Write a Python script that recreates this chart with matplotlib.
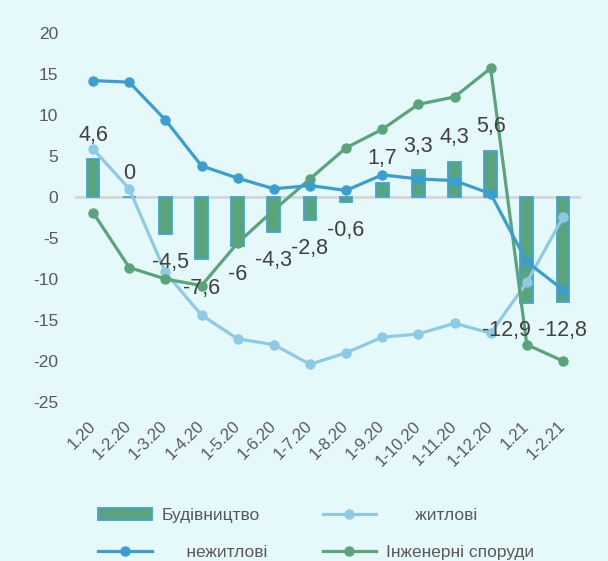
import matplotlib
matplotlib.use("Agg")
import matplotlib.pyplot as plt
from matplotlib.patches import Patch
from matplotlib.lines import Line2D
import numpy as np

plt.rcParams['font.family'] = ['Liberation Sans', 'DejaVu Sans']

categories = ['1.20', '1-2.20', '1-3.20', '1-4.20', '1-5.20', '1-6.20', '1-7.20',
              '1-8.20', '1-9.20', '1-10.20', '1-11.20', '1-12.20', '1.21', '1-2.21']
construction = [4.6, 0, -4.5, -7.6, -6, -4.3, -2.8, -0.6, 1.7, 3.3, 4.3, 5.6, -12.9, -12.8]
residential = [5.85, 1.0, -9.2, -14.4, -17.3, -18.0, -20.4, -19.0, -17.1, -16.7, -15.4, -16.6, -10.4, -2.5]
nonresidential = [14.2, 14.0, 9.4, 3.8, 2.3, 1.0, 1.4, 0.8, 2.7, 2.2, 2.0, 0.4, -7.9, -11.3]
engineering = [-1.9, -8.6, -10.0, -10.8, -5.6, -1.6, 2.2, 6.0, 8.25, 11.3, 12.2, 15.7, -18.0, -20.0]
label_texts = ['4,6', '0', '-4,5', '-7,6', '-6', '-4,3', '-2,8', '-0,6', '1,7', '3,3', '4,3', '5,6', '-12,9', '-12,8']
# label placement (data units), as laid out in the reference
label_x = [0, 1, 2.14, 3, 4, 5, 6, 7, 8, 9, 10, 11, 11.45, 13]
label_y = [7.5, 2.9, -7.95, -11.1, -9.4, -7.7, -6.25, -4.05, 4.75, 6.2, 7.2, 8.6, -16.25, -16.25]

BG = '#E5F9FB'
GREEN = '#5AA47B'
BLUE = '#3A9FD0'
LBLUE = '#8FCAE4'
EDGE = '#41A3D6'

fig = plt.figure(figsize=(6.08, 5.61), dpi=100, facecolor=BG)
ax = fig.add_axes([0.1234, 0.2834, 0.8322, 0.6578], facecolor=BG)

x = np.arange(len(categories))
ax.bar(x, construction, width=0.35, color=GREEN, edgecolor=EDGE, linewidth=1.3, zorder=2)
ax.axhline(0, color='#D6D6D6', linewidth=2, zorder=1)
ax.plot(x, residential, color=LBLUE, lw=2.3, marker='o', ms=6.5, zorder=3)
ax.plot(x, nonresidential, color=BLUE, lw=2.3, marker='o', ms=6.5, zorder=4)
ax.plot(x, engineering, color=GREEN, lw=2.3, marker='o', ms=6.5, zorder=3)

for lx, ly, t in zip(label_x, label_y, label_texts):
    ax.text(lx, ly, t, ha='center', va='center', fontsize=15.5, color='#404040', zorder=6)

ax.set_xlim(-0.5, len(categories) - 0.5)
ax.set_ylim(-25, 20)
ax.set_yticks(np.arange(-25, 21, 5))
ax.set_yticklabels([str(v) for v in range(-25, 21, 5)])
ax.set_xticks(x)
ax.set_xticklabels(categories, rotation=45, ha='right', va='center', rotation_mode='anchor')
for s in ax.spines.values():
    s.set_visible(False)
ax.tick_params(axis='y', length=0, pad=12, labelsize=12.5, labelcolor='#595959')
ax.tick_params(axis='x', length=0, pad=15.5, labelsize=12, labelcolor='#595959')

handles = [
    Patch(facecolor=GREEN, edgecolor=EDGE, linewidth=1.3),
    Line2D([], [], color=BLUE, lw=2.3, marker='o', ms=6.5),
    Line2D([], [], color=LBLUE, lw=2.3, marker='o', ms=6.5),
    Line2D([], [], color=GREEN, lw=2.3, marker='o', ms=6.5),
]
labels = ['Будівництво', '     нежитлові', '      житлові', 'Інженерні споруди']
leg = fig.legend(handles, labels, ncol=2, loc='center', bbox_to_anchor=(0.52, 0.048),
                 frameon=False, fontsize=12.5, handlelength=3.1, handletextpad=0.55,
                 columnspacing=3.2, labelspacing=1.27, labelcolor='#595959')

fig.savefig('out.png', dpi=100, facecolor=BG)
